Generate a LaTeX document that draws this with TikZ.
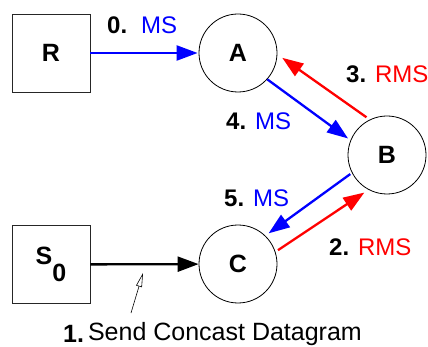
\documentclass[tikz,border=0pt]{standalone}
\usepackage{fontspec}
\setmainfont{Liberation Sans}
\usetikzlibrary{arrows.meta}
\begin{document}
\begin{tikzpicture}[x=1pt,y=-1pt,
  box/.style={draw=black!85, line width=0.8pt, minimum size=78pt, inner sep=0pt, font=\fontsize{25}{30}\selectfont\bfseries},
  circ/.style={draw, circle, line width=0.8pt, minimum size=78pt, inner sep=0pt, font=\fontsize{25}{30}\selectfont\bfseries},
  lbl/.style={anchor=base west, inner sep=0pt, font=\fontsize{24}{28}\selectfont},
  flow/.style={line width=2.3pt, -{Triangle[length=21pt,width=15pt]}},
  note/.style={line width=0.6pt, -{Triangle[open,length=14pt,width=6pt]}},
]
\useasboundingbox (0,0) rectangle (428,347);
\node[box] (R) at (51,53) {R};
\node[box] (S0) at (51,264.5) {S\raisebox{-17pt}{0}\hspace{8pt}};
\node[circ] (A) at (238,53) {A};
\node[circ] (B) at (387,155) {B};
\node[circ] (C) at (238,264) {C};

\draw[flow, blue, shorten >=1pt] (R) -- (A);
\draw[flow, blue, shorten >=3pt] (A.-42) -- (B.158);
\draw[flow, red, shorten <=4pt, shorten >=6pt] (B.116) -- (A.-2.5);
\draw[flow, blue, shorten <=2pt, shorten >=4pt] (B.207) -- (C.46);
\draw[flow, red, shorten <=3pt, shorten >=5pt] (C.18) -- (B.242);
\draw[flow, black] (S0) -- (C);

\node[lbl] (l0) at (107,34) {\textbf{0.}\hspace{14pt}\textcolor{blue}{MS}};
\node[lbl] (l3) at (346,83) {\textbf{3.} \textcolor{red}{RMS}};
\node[lbl] (l4) at (226,130) {\textbf{4.} \textcolor{blue}{MS}};
\node[lbl] (l5) at (224,207) {\textbf{5.} \textcolor{blue}{MS}};
\node[lbl] (l2) at (329,255) {\textbf{2.} \textcolor{red}{RMS}};
\node[lbl, font=\fontsize{25}{30}\selectfont] (l1) at (63,340.5) {\raisebox{-2pt}{\textbf{1.}}\hspace{4pt}Send Concast Datagram};

\coordinate (annT) at (131,313);
\coordinate (annH) at (143,273);
\draw[note] (annT) -- (annH);
\end{tikzpicture}
\end{document}
